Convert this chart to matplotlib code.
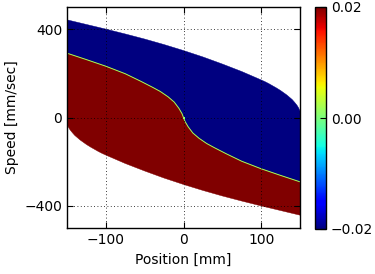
import numpy as np
import matplotlib
matplotlib.use("Agg")
import matplotlib.pyplot as plt
from matplotlib.colors import Normalize
from matplotlib.cm import ScalarMappable
from matplotlib.ticker import FuncFormatter

# Control value in each region
u_above = -0.02
u_below = 0.02
u_switch = 0.0

# Upper boundary of the state region (position mm, speed mm/s)
upper_pos = [-150, -125, -100, -75, -50, -25, 0, 25, 50, 75, 100, 105, 110, 115, 120,
             125, 129, 133, 137, 140, 143, 146, 148, 150]
upper_speed = [442, 421, 400, 378, 355, 330, 303, 274, 242, 208, 170, 162, 153, 143, 133,
               122, 112, 102, 90, 81, 69, 56, 45, 30]

# Lower boundary of the state region
lower_pos = [-150, -148, -146, -143, -140, -137, -133, -129, -125, -120, -115, -110, -105,
             -100, -75, -50, -25, 0, 25, 50, 75, 100, 125, 150]
lower_speed = [-30, -45, -56, -69, -81, -90, -102, -112, -122, -133, -143, -153, -162,
               -170, -208, -242, -274, -303, -330, -355, -378, -400, -421, -442]

# Switching curve
sw_pos = [-150, -125, -100, -75, -55, -40, -30, -20, -12, -6, -2, 0,
          2, 6, 12, 20, 30, 40, 55, 75, 100, 125, 150]
sw_speed = [291, 262, 232, 198, 164, 137, 118, 94, 70, 42, 18, 0,
            -18, -42, -70, -94, -118, -137, -164, -198, -232, -262, -291]

xticks = [-100, 0, 100]
yticks = [-400, 0, 400]
cticks = [-0.02, 0.0, 0.02]

plt.rcParams['font.family'] = ['DejaVu Sans']
plt.rcParams['font.size'] = 10

fig = plt.figure(figsize=(3.75, 2.74), dpi=100)
ax = fig.add_axes([67/375, 46/274, 233/375, 221/274])
cax = fig.add_axes([315/375, 45/274, 11/375, 222/274])

cmap = plt.get_cmap('jet')
norm = Normalize(vmin=-0.02, vmax=0.02)

# Region above switching curve
bx = list(upper_pos) + list(sw_pos[::-1])
by = list(upper_speed) + list(sw_speed[::-1])
ax.fill(bx, by, color=cmap(norm(u_above)), lw=0.3, ec=cmap(norm(u_above)), zorder=1)

# Region below switching curve
rx = list(sw_pos) + list(lower_pos[::-1])
ry = list(sw_speed) + list(lower_speed[::-1])
ax.fill(rx, ry, color=cmap(norm(u_below)), lw=0.3, ec=cmap(norm(u_below)), zorder=1)

# Switching line
ax.plot(sw_pos, sw_speed, color=cmap(norm(u_switch) + 0.04), lw=0.7, zorder=2)
ax.plot([0], [0], 's', ms=2, mew=0, color=cmap(norm(u_switch) + 0.02), zorder=3)

ax.set_xlim(-150, 150)
ax.set_ylim(-500, 500)
ax.set_xticks(xticks)
ax.set_yticks(yticks)
ax.grid(True, color='black', linestyle=(0, (1, 3)), linewidth=0.6)
ax.set_axisbelow(False)
ax.tick_params(direction='in', length=4, top=True, right=True, width=0.8)
for s in ax.spines.values():
    s.set_linewidth(1.0)
ax.set_xlabel('Position [mm]')
ax.set_ylabel('Speed [mm/sec]')

sm = ScalarMappable(norm=norm, cmap=cmap)
cb = fig.colorbar(sm, cax=cax, ticks=cticks,
                  format=FuncFormatter(lambda v, p: f"{v:.2f}".replace('-', '\u2212')))
cb.ax.tick_params(direction='in', length=4, width=0.8)
cb.outline.set_linewidth(1.0)

fig.savefig('out.png', dpi=100)
